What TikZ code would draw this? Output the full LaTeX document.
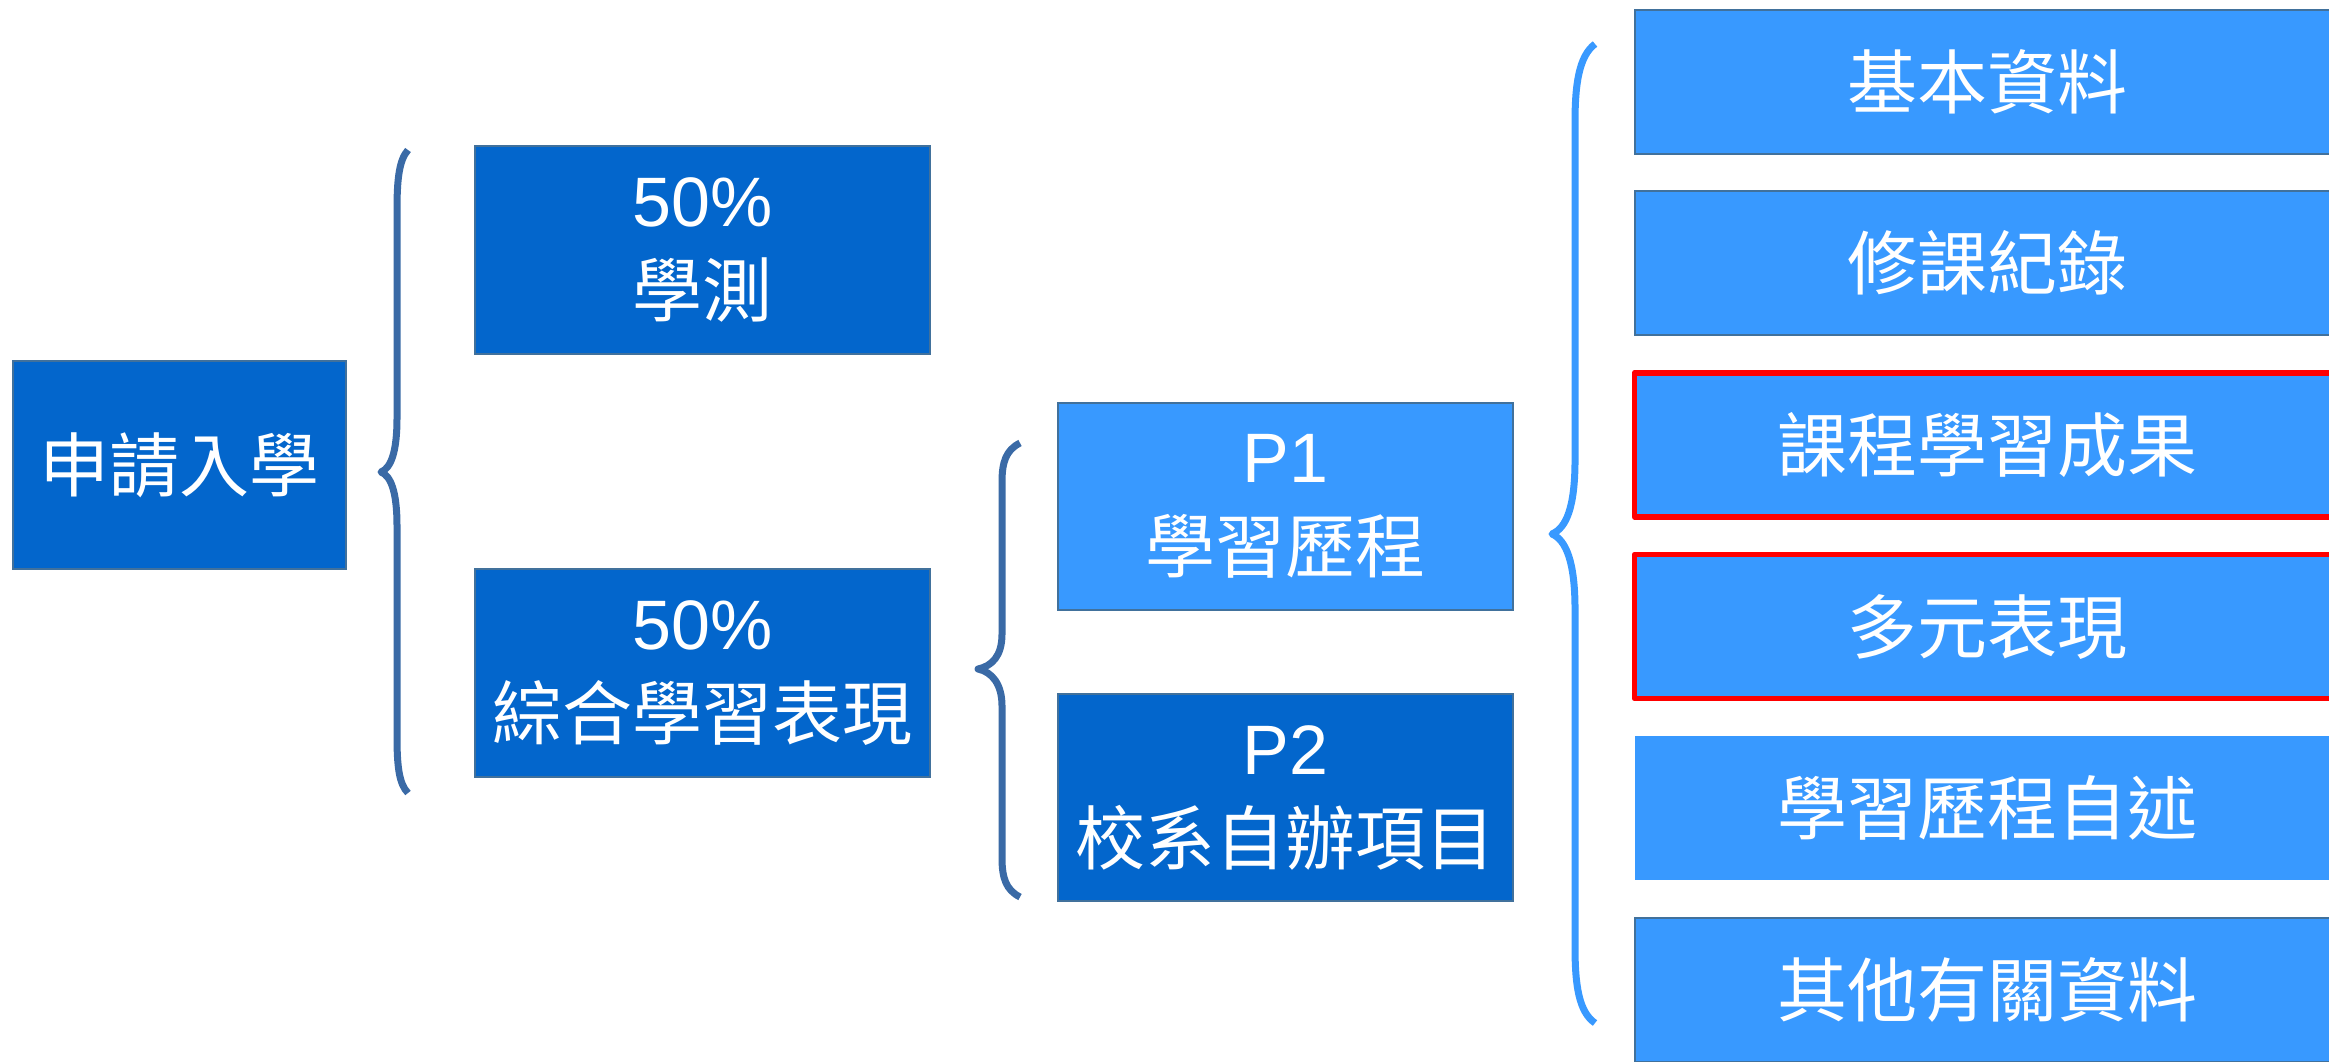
\documentclass[tikz,border=0pt]{standalone}
\usepackage{fontspec}
\setmainfont{Liberation Sans}
\newfontfamily\cjk{Noto Sans CJK TC}
\definecolor{darkbox}{RGB}{3,102,204}
\definecolor{lightbox}{RGB}{56,153,255}
\definecolor{boxline}{RGB}{65,113,156}
\definecolor{bracedark}{RGB}{58,106,166}
\definecolor{bracelight}{RGB}{56,153,255}
\definecolor{markred}{RGB}{255,0,0}

\begin{document}
\begin{tikzpicture}
[x=0.25pt, y=-0.25pt,
 every node/.style={inner sep=0pt, align=center, text=white, font=\fontsize{17.5pt}{22.5pt}\selectfont},
 darkrect/.style={rectangle, fill=darkbox, draw=boxline, line width=0.5pt, minimum width=113.75pt, minimum height=52pt},
 lightrect/.style={rectangle, fill=lightbox, draw=boxline, line width=0.5pt, minimum width=113.75pt, minimum height=51.75pt},
 itemrect/.style={rectangle, fill=lightbox, draw=boxline, line width=0.5pt, minimum width=176.25pt, minimum height=36pt},
 redrect/.style={itemrect, draw=markred, line width=1.4pt, line join=round},
 bracestroke/.style={line width=1.75pt, line join=round}]
\fill [white] (0,0) rectangle (2329,1061);
\useasboundingbox (0,0) rectangle (2329,1061);
\node (apply) [darkrect, minimum width=83.25pt] at (179.5, 465) {\cjk 申請入學};
\node (gsat) [darkrect] at (702.5, 250) {50\%\\{\cjk 學測}};
\node (overall) [darkrect] at (702.5, 673) {50\%\\{\cjk 綜合學習表現}};
\node (p1) [lightrect] at (1285.5, 506.5) {P1\\{\cjk 學習歷程}};
\node (p2) [darkrect, minimum height=51.75pt] at (1285.5, 797.5) {P2\\{\cjk 校系自辦項目}};
\node (basic) [itemrect] at (1987, 81.5) {\cjk 基本資料};
\node (courses) [itemrect] at (1987, 263.2) {\cjk 修課紀錄};
\node (results) [redrect] at (1987, 444.9) {\cjk 課程學習成果};
\node (diverse) [redrect] at (1987, 626.6) {\cjk 多元表現};
\node (essay) [itemrect, draw=none] at (1987, 808.3) {\cjk 學習歷程自述};
\node (others) [itemrect] at (1987, 990) {\cjk 其他有關資料};
\draw [bracestroke, color=bracedark] (408,150) .. controls (399,160) and (397,180) .. (397,210) -- (397,418) .. controls (397,452) and (391,468) .. (381,472) .. controls (391,476) and (397,492) .. (397,526) -- (397,736) .. controls (397,766) and (399,784) .. (408,793);
\draw [bracestroke, color=bracedark] (1020,443) .. controls (1006,450) and (1002,462) .. (1002,482) -- (1002,634) .. controls (1002,656) and (992,666) .. (978,669) .. controls (992,672) and (1002,684) .. (1002,706) -- (1002,858) .. controls (1002,878) and (1006,890) .. (1020,897);
\draw [bracestroke, color=bracelight] (1595,44) .. controls (1579,56) and (1575,84) .. (1575,122) -- (1575,460) .. controls (1575,508) and (1566,528) .. (1552,534) .. controls (1566,540) and (1575,562) .. (1575,609) -- (1575,947) .. controls (1575,986) and (1579,1012) .. (1595,1023);
\end{tikzpicture}
\end{document}
